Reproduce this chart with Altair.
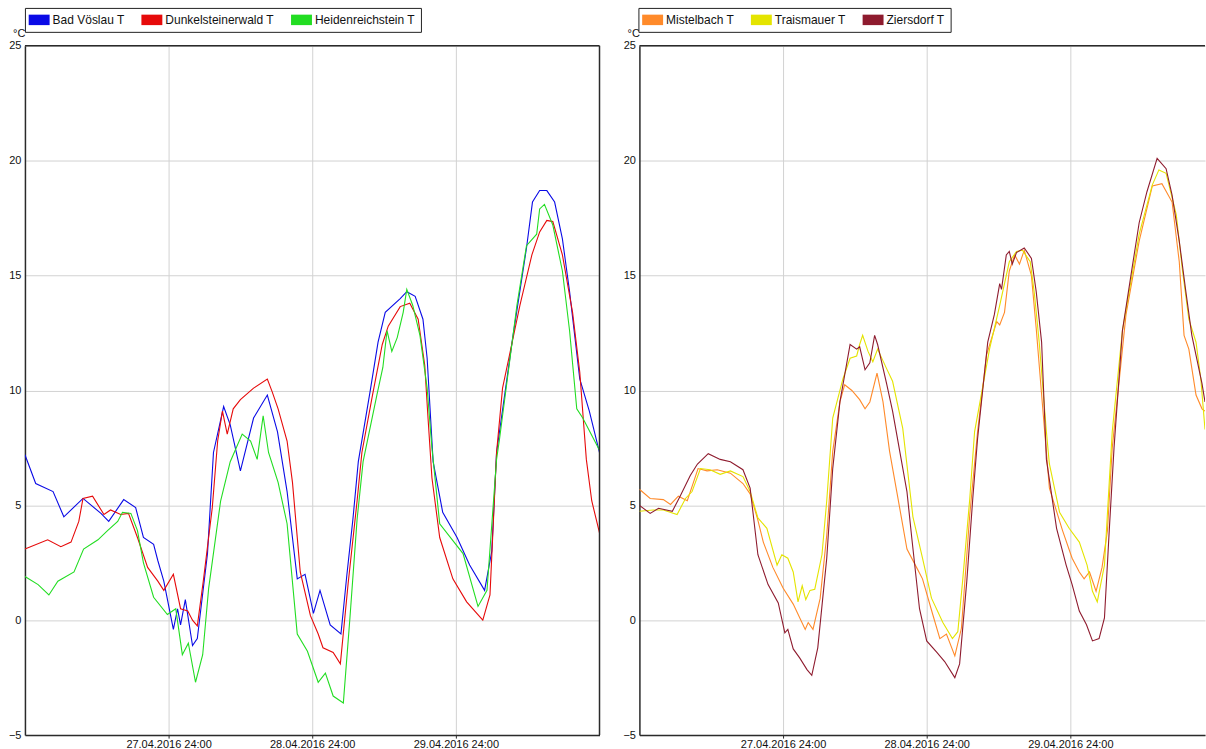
import json
import altair as alt
import pandas as pd

FONT = "Liberation Sans"

# ---- axis ticks ----
TICK_HOURS = [24, 48, 72]
TICK_LABELS = ["27.04.2016 24:00", "28.04.2016 24:00", "29.04.2016 24:00"]
Y_TICKS = [-5, 0, 5, 10, 15, 20, 25]

# ---- series names / colours ----
LEFT_NAMES = ["Bad Vöslau T", "Dunkelsteinerwald T", "Heidenreichstein T"]
LEFT_COLORS = ["#0A0AE6", "#E60A0A", "#22DD22"]
RIGHT_NAMES = ["Mistelbach T", "Traismauer T", "Ziersdorf T"]
RIGHT_COLORS = ["#FF8A2A", "#E4E400", "#8E1B2E"]

# ---- data: hours since 27.04.2016 00:00, temperature in °C ----
voeslau_h = [0, 1.8, 4.7, 6.5, 9.7, 12.7, 14.0, 16.5, 18.5, 19.8, 21.5, 22.2, 23.2, 24.8, 25.5,
             26.0, 26.8, 28.0, 28.8, 30.5, 31.5, 33.2, 34.3, 36.0, 38.2, 40.5, 42.2, 43.8, 45.5,
             46.8, 48.2, 49.3, 51.0, 52.8, 53.8, 54.8, 55.7, 57.7, 59.0, 60.2, 62.7, 63.8, 65.2,
             66.5, 67.2, 68.2, 69.8, 72.2, 74.3, 76.8, 78.0, 78.8, 81.5, 83.8, 84.8, 86.0, 87.2,
             88.5, 89.8, 91.0, 92.7, 94.3, 96.0]
voeslau_t = [7.2, 5.95, 5.6, 4.5, 5.3, 4.65, 4.3, 5.25, 4.9, 3.6, 3.3, 2.6, 1.7, -0.4, 0.5,
             -0.2, 0.9, -1.1, -0.8, 2.9, 7.3, 9.3, 8.5, 6.5, 8.8, 9.8, 8.2, 5.6, 1.8,
             2.0, 0.3, 1.3, -0.2, -0.6, 2.0, 4.4, 6.9, 10.0, 12.1, 13.4, 14.0, 14.3, 14.1,
             13.1, 11.4, 6.9, 4.7, 3.6, 2.4, 1.3, 3.0, 7.3, 12.3, 16.2, 18.2, 18.7, 18.7,
             18.2, 16.6, 14.3, 10.5, 9.1, 7.3]

dunkel_h = [0, 3.8, 6.0, 7.7, 9.0, 9.7, 11.3, 13.2, 14.3, 16.0, 17.3, 18.8, 20.5, 22.2, 23.2,
            24.8, 26.0, 27.2, 28.0, 28.8, 29.8, 31.3, 32.2, 33.0, 33.8, 34.8, 36.0, 38.2, 40.5,
            41.3, 42.3, 43.8, 44.7, 46.0, 47.7, 49.0, 49.8, 51.5, 52.7, 54.0, 55.5, 56.3, 58.0,
            59.7, 60.7, 62.7, 64.3, 65.7, 66.8, 67.3, 68.0, 69.3, 71.5, 73.8, 76.5, 77.7, 78.8,
            79.8, 82.7, 84.7, 86.0, 87.2, 88.2, 89.8, 91.5, 92.7, 93.8, 94.7, 96.0]
dunkel_t = [3.1, 3.5, 3.2, 3.4, 4.3, 5.3, 5.4, 4.6, 4.8, 4.6, 4.65, 3.6, 2.3, 1.7, 1.3,
            2.0, 0.5, 0.4, 0.0, -0.25, 1.7, 4.9, 7.8, 9.1, 8.1, 9.2, 9.6, 10.1, 10.5,
            9.95, 9.2, 7.8, 6.0, 2.1, 0.2, -0.6, -1.2, -1.4, -1.9, 1.6, 5.2, 7.3, 9.7,
            12.0, 12.8, 13.65, 13.8, 13.1, 11.1, 9.0, 6.2, 3.6, 1.8, 0.8, 0.0, 1.1, 7.3,
            10.1, 13.7, 15.9, 16.9, 17.4, 17.35, 15.9, 13.4, 10.8, 7.0, 5.2, 3.8]

heiden_h = [0, 2.2, 4.0, 5.5, 8.2, 9.8, 12.2, 13.8, 15.5, 16.3, 17.7, 18.8, 19.8, 21.5, 23.8,
            25.2, 26.3, 27.3, 28.5, 29.7, 30.7, 32.7, 34.3, 36.3, 37.7, 38.8, 39.8, 40.7, 42.3,
            43.8, 45.5, 47.2, 49.0, 50.2, 51.5, 53.2, 54.3, 55.5, 56.5, 58.8, 59.8, 60.5, 61.3,
            62.2, 63.2, 63.8, 64.8, 66.0, 67.2, 68.0, 69.3, 73.2, 75.7, 77.2, 78.8, 79.3, 82.2,
            83.8, 85.5, 86.0, 86.8, 88.2, 89.8, 91.0, 92.2, 93.2, 96.0]
heiden_t = [1.9, 1.55, 1.1, 1.7, 2.1, 3.1, 3.5, 3.9, 4.3, 4.7, 4.65, 3.9, 2.5, 1.0, 0.25,
            0.5, -1.5, -1.0, -2.7, -1.5, 1.4, 5.2, 6.9, 8.1, 7.8, 7.0, 8.9, 7.3, 6.0,
            4.2, -0.6, -1.35, -2.7, -2.3, -3.3, -3.6, 0.1, 4.4, 6.9, 9.8, 11.0, 12.6, 11.7,
            12.3, 13.4, 14.4, 13.7, 12.4, 10.1, 7.5, 4.2, 2.9, 0.6, 1.3, 7.0, 7.9, 13.7,
            16.3, 16.8, 17.9, 18.1, 17.2, 15.2, 12.6, 9.2, 8.8, 7.4]

mistel_h = [0, 1.8, 4.0, 5.2, 6.5, 8.0, 9.8, 11.3, 13.0, 15.2, 17.3, 18.5, 19.7, 20.7, 22.3,
            24.0, 25.7, 27.7, 28.2, 29.0, 30.2, 31.3, 32.3, 33.5, 34.3, 35.5, 36.8, 37.7, 38.5,
            39.7, 40.7, 41.8, 43.0, 44.7, 46.3, 47.3, 49.0, 50.2, 51.3, 52.7, 53.8, 55.2, 56.5,
            58.0, 59.7, 60.2, 61.0, 61.8, 62.7, 63.5, 64.3, 65.5, 66.3, 67.3, 68.5, 70.7, 72.3,
            73.5, 74.3, 75.2, 76.3, 77.3, 78.2, 79.0, 81.3, 83.5, 85.7, 87.3, 89.0, 90.2, 91.0,
            91.8, 93.0, 94.0, 94.5]
mistel_t = [5.7, 5.3, 5.25, 5.04, 5.4, 5.2, 6.6, 6.5, 6.55, 6.4, 5.95, 5.5, 4.45, 3.4, 2.3,
            1.4, 0.7, -0.4, -0.1, -0.4, 0.95, 3.7, 7.35, 9.5, 10.25, 10.0, 9.6, 9.2, 9.5,
            10.75, 9.5, 7.35, 5.6, 3.1, 2.3, 1.8, 0.26, -0.8, -0.6, -1.55, -0.35, 4.6, 8.2,
            11.55, 13.0, 12.85, 13.4, 15.2, 15.9, 15.5, 16.1, 15.0, 12.7, 9.5, 5.75, 3.9, 2.7,
            2.1, 1.8, 2.1, 1.26, 2.3, 3.9, 7.5, 13.3, 16.5, 18.9, 19.0, 18.2, 15.6, 12.4,
            11.8, 9.8, 9.2, 9.1]

trais_h = [0, 2.3, 4.0, 6.3, 7.7, 8.8, 10.2, 11.8, 13.5, 15.2, 17.3, 18.5, 19.8, 21.3, 23.0,
           23.8, 24.8, 25.7, 26.5, 27.2, 27.8, 28.5, 29.3, 30.5, 31.3, 32.3, 34.0, 35.2, 36.3,
           36.8, 37.3, 38.2, 39.0, 39.8, 41.3, 42.3, 44.0, 45.7, 47.3, 48.8, 50.7, 52.3, 53.2,
           54.0, 55.2, 56.0, 58.5, 60.2, 61.8, 63.0, 64.0, 65.3, 66.0, 66.8, 68.0, 68.5, 70.2,
           71.8, 73.5, 74.8, 75.7, 76.5, 77.7, 78.5, 79.0, 80.7, 83.5, 85.7, 86.8, 88.0, 89.7,
           90.7, 91.8, 93.0, 93.8, 94.5]
trais_t = [4.74, 4.8, 4.8, 4.6, 5.3, 5.6, 6.6, 6.55, 6.35, 6.5, 6.25, 5.6, 4.45, 4.0, 2.4,
           2.85, 2.7, 2.1, 0.8, 1.5, 0.9, 1.3, 1.35, 2.85, 5.2, 8.8, 10.5, 11.4, 11.5,
           12.0, 12.4, 11.7, 11.25, 11.8, 10.95, 10.4, 8.35, 4.5, 2.7, 0.96, -0.1, -0.8, -0.5,
           1.7, 5.3, 8.2, 11.8, 13.7, 15.6, 16.05, 16.1, 15.6, 14.2, 12.1, 8.2, 6.8, 4.7,
           4.0, 3.4, 2.4, 1.26, 0.8, 2.4, 6.0, 8.2, 12.6, 16.8, 18.95, 19.6, 19.45, 17.65,
           15.3, 13.1, 12.1, 10.5, 8.3]

ziers_h = [0, 1.8, 3.2, 5.5, 6.8, 8.5, 9.7, 11.5, 13.5, 15.2, 17.3, 18.5, 19.8, 21.5, 23.2,
           24.3, 24.8, 25.7, 26.8, 28.0, 28.8, 29.8, 31.3, 32.3, 33.5, 35.2, 36.3, 36.8, 37.7,
           38.5, 39.3, 39.8, 41.3, 42.3, 44.7, 45.5, 46.8, 48.0, 49.7, 51.0, 52.7, 53.5, 54.7,
           55.7, 56.5, 58.2, 59.3, 60.2, 60.5, 61.3, 61.8, 62.3, 63.0, 64.3, 65.5, 66.3, 67.2,
           68.0, 69.7, 71.3, 72.3, 73.5, 74.7, 75.7, 76.8, 77.7, 78.5, 79.3, 80.7, 82.3, 83.5,
           84.8, 86.5, 88.0, 89.0, 90.2, 91.3, 92.3, 94.0, 94.5]
ziers_t = [5.0, 4.65, 4.87, 4.74, 5.4, 6.3, 6.8, 7.25, 7.0, 6.9, 6.55, 5.75, 2.85, 1.55, 0.75,
           -0.55, -0.4, -1.25, -1.65, -2.15, -2.4, -1.2, 2.7, 6.6, 9.5, 12.0, 11.8, 11.9, 10.9,
           11.2, 12.4, 12.0, 10.3, 9.1, 5.6, 3.6, 0.5, -0.9, -1.4, -1.8, -2.5, -1.9, 1.7,
           5.3, 7.9, 12.1, 13.3, 14.65, 14.4, 15.9, 16.05, 15.5, 16.0, 16.2, 15.75, 14.3, 12.1,
           7.0, 4.0, 2.4, 1.55, 0.4, -0.2, -0.9, -0.8, 0.1, 3.9, 7.5, 12.6, 15.3, 17.3,
           18.65, 20.1, 19.65, 18.5, 16.5, 14.3, 12.4, 10.3, 9.5]


def build(names, colors, hours, temps):
    rows = []
    for name, col, hs, ts in zip(names, colors, hours, temps):
        assert len(hs) == len(ts), name
        for i, (h, t) in enumerate(zip(hs, ts)):
            rows.append({"series": name, "col": col, "h": h, "t": t, "i": i})
    return pd.DataFrame(rows)


left_df = build(LEFT_NAMES, LEFT_COLORS, [voeslau_h, dunkel_h, heiden_h],
                [voeslau_t, dunkel_t, heiden_t])
right_df = build(RIGHT_NAMES, RIGHT_COLORS, [mistel_h, trais_h, ziers_h],
                 [mistel_t, trais_t, ziers_t])

LABEL_EXPR = json.dumps(TICK_LABELS) + "[round(datum.value / 24) - 1]"
GRID = "#d2d2d2"
DARK = "#2a2a2a"
PLOT_H = 691


def panel(df, names, colors, width, x_max, right_border, legend_x):
    x_axis = alt.Axis(values=TICK_HOURS, labelExpr=LABEL_EXPR, title=None, grid=True,
                      gridColor=GRID, gridWidth=1, domainColor=DARK, domainWidth=1.5,
                      tickColor=DARK, tickSize=3, labelFont=FONT, labelFontSize=11,
                      labelColor="#111", labelPadding=0, labelFlush=False,
                      labelOverlap=False)
    y_axis = alt.Axis(values=Y_TICKS, title="°C", titleAngle=0, titleAlign="right",
                      titleBaseline="bottom", titleX=0, titleY=-7, titleFont=FONT,
                      titleFontSize=11, titleFontWeight="normal", titleColor="#111",
                      grid=True, gridColor=GRID, gridWidth=1, domainColor=DARK,
                      domainWidth=1.5, ticks=False, labelPadding=4, labelFont=FONT,
                      labelFontSize=11, labelColor="#111", minExtent=16, maxExtent=16)
    legend = alt.Legend(title=None, orient="none", legendX=legend_x, legendY=-38,
                        direction="horizontal", symbolType="M-2,-1H2V1H-2Z", symbolSize=110,
                        symbolStrokeWidth=0, symbolOffset=2.25, symbolOpacity=1,
                        labelFont=FONT, labelFontSize=12, labelColor="#111", labelOffset=7.5,
                        columnPadding=16, padding=6, strokeColor="#222", fillColor="white")
    xs = alt.X("h:Q", scale=alt.Scale(domain=[0, x_max], nice=False, zero=False), axis=x_axis)
    ys = alt.Y("t:Q", scale=alt.Scale(domain=[-5, 25], nice=False, zero=False), axis=y_axis)
    lines = alt.Chart(df).mark_line(strokeWidth=1.1, clip=True).encode(
        x=xs, y=ys,
        stroke=alt.Stroke("col:N", scale=None),
        detail="series:N",
        order="i:Q",
    )
    # invisible filled marks that only provide the filled-swatch legend
    swatches = alt.Chart(df).mark_square(filled=True, size=0, opacity=1).encode(
        fill=alt.Fill("series:N", scale=alt.Scale(domain=names, range=colors), legend=legend),
    )
    one = alt.Data(values=[{"k": 1}])
    layers = [lines, swatches,
              alt.Chart(one).mark_rule(color=DARK, strokeWidth=1.5).encode(y=alt.datum(25))]
    if right_border:
        layers.append(alt.Chart(one).mark_rule(color=DARK, strokeWidth=1.5)
                      .encode(x=alt.datum(x_max)))
    return alt.layer(*layers).properties(width=width, height=PLOT_H)


left = panel(left_df, LEFT_NAMES, LEFT_COLORS, 576, 96, True, 0)
right = panel(right_df, RIGHT_NAMES, RIGHT_COLORS, 567, 94.5, False, -1)

chart = (
    alt.hconcat(left, right, spacing=22)
    .resolve_scale(fill="independent")
    .configure_view(stroke=None)
    .properties(padding={"left": 8, "top": 6, "right": 0, "bottom": 0}, background="white")
)

chart.save("out.html", embed_options={"renderer": "svg", "actions": False})
